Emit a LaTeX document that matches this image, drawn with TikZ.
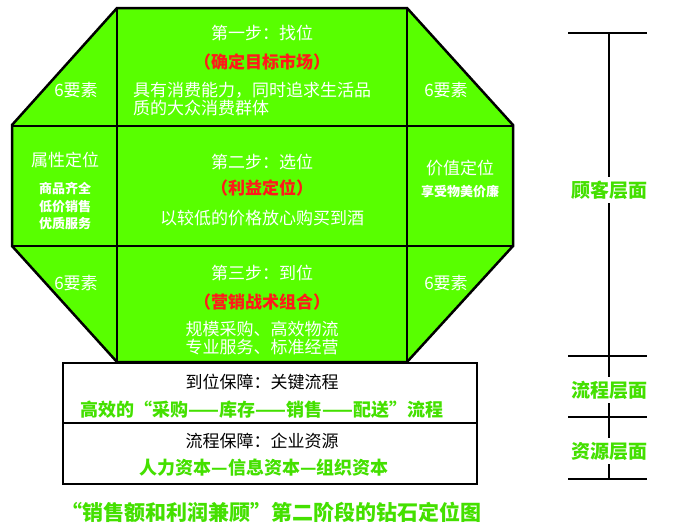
\documentclass[tikz,border=0pt]{standalone}
\usepackage{fontspec}
\usepackage{tikz}
\usetikzlibrary{positioning}
\newfontfamily\cjk{Noto Sans CJK SC}
\definecolor{leaf}{HTML}{58FF00}
\definecolor{leafdark}{HTML}{44E000}
\definecolor{alert}{HTML}{FF1A1A}

\tikzset{
  cell/.style={text=white, inner sep=0pt, font=\cjk\fontsize{17}{18}\selectfont},
  tag/.style={text=alert, inner sep=0pt, font=\cjk\bfseries\fontsize{17}{18}\selectfont},
  note/.style={text=white, inner sep=0pt, align=center, font=\cjk\bfseries\fontsize{13}{17.5}\selectfont},
  plain/.style={text=black, inner sep=0pt, font=\cjk\fontsize{17}{18}\selectfont},
  flow/.style={text=leafdark, inner sep=0pt, font=\cjk\bfseries\fontsize{18}{18}\selectfont},
  layer/.style={text=leafdark, fill=white, inner sep=4pt, font=\cjk\bfseries\fontsize{19}{20}\selectfont},
  rule/.style={line width=2.5pt}
}

\begin{document}
\begin{tikzpicture}[x=1pt, y=-1pt]
  \useasboundingbox (0,0) rectangle (700,530);
  % diamond body
  \fill[leaf] (117,8) -- (407,8) -- (513,125) -- (513,246) -- (407,362)
    -- (117,362) -- (12,246) -- (12,125) -- cycle;
  \draw[line width=2pt] (117,8) -- (117,362) (407,8) -- (407,362);
  \draw[line width=2pt] (12,126) -- (513,126) (12,246) -- (513,246);
  \draw[rule, line join=miter] (117,8) -- (407,8) -- (513,125) -- (513,246) -- (407,362)
    -- (117,362) -- (12,246) -- (12,125) -- cycle;

  % step one
  \node[cell] (step1) at (262,33) {第一步：找位};
  \node[tag] (goal1) at (262,62) {（确定目标市场）};
  \node[cell, anchor=west, align=left] (desc1) at (133,99)
       {具有消费能力，同时追求生活品\\质的大众消费群体};
  \node[cell] (topl) at (76,90) {6要素};
  \node[cell] (topr) at (446,90) {6要素};

  % step two
  \node[cell] (step2) at (262,162) {第二步：选位};
  \node[tag] (goal2) at (262,188) {（利益定位）};
  \node[cell] (desc2) at (262,218) {以较低的价格放心购买到酒};
  \node[cell] (attr) at (65,160) {属性定位};
  \node[note] (attrx) at (65,206) {商品齐全\\低价销售\\优质服务};
  \node[cell] (worth) at (460,168) {价值定位};
  \node[note] (worthx) at (460,192) {享受物美价廉};

  % step three
  \node[cell] (step3) at (262,273) {第三步：到位};
  \node[tag] (goal3) at (262,302) {（营销战术组合）};
  \node[cell, align=center] (desc3) at (262,338) {规模采购、高效物流\\专业服务、标准经营};
  \node[cell] (botl) at (76,283) {6要素};
  \node[cell] (botr) at (446,283) {6要素};

  % process and resource boxes
  \draw[rule] (63,363) rectangle (477,484);
  \draw[rule] (63,423) -- (477,423);
  \node[plain] (proc) at (262,382) {到位保障：关键流程};
  \node[flow] (procx) at (262,410) {高效的“采购——库存——销售——配送”流程};
  \node[plain] (res) at (262,441) {流程保障：企业资源};
  \node[flow] (resx) at (264,468) {人力资本—信息资本—组织资本};

  \node[flow, font=\cjk\bfseries\fontsize{21}{24}\selectfont] (title) at (271,512)
       {“销售额和利润兼顾”第二阶段的钻石定位图};

  % layer scale
  \draw[rule] (609,33) -- (609,479);
  \foreach \y in {33,356,417,479}
    \draw[rule] (568,\y) -- (647,\y);
  \node[layer] (cust) at (609,190) {顾客层面};
  \node[layer] (flowl) at (609,390) {流程层面};
  \node[layer] (resl) at (609,451) {资源层面};
\end{tikzpicture}
\end{document}
